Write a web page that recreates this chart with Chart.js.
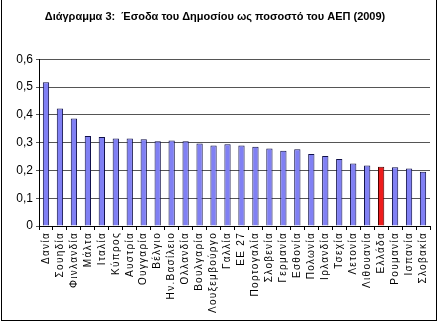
<!DOCTYPE html>
<html>
<head>
<meta charset="utf-8">
<script src="https://cdn.jsdelivr.net/npm/chart.js@4/dist/chart.umd.min.js"></script>
<style>
  body { margin: 0; background: #fff; }
  #wrap { position: relative; width: 438px; height: 325px; }
  #frame { position: absolute; left: 1px; top: -2px; width: 434px; height: 321px; border: 1px solid #000; pointer-events: none; }
</style>
</head>
<body>
<div id="wrap">
  <canvas id="myChart" width="438" height="325"></canvas>
  <div id="frame"></div>
</div>
<script>
// countries, sorted by revenue share
const countries = [
    'Δανία', 'Σουηδία', 'Φινλανδία', 'Μάλτα', 'Ιταλία', 'Κύπρος', 'Αυστρία',
    'Ουγγαρία', 'Βέλγιο', 'Ην.Βασίλειο', 'Ολλανδία', 'Βουλγαρία', 'Λουξεμβούργο',
    'Γαλλία', 'ΕΕ 27', 'Πορτογαλία', 'Σλοβενία', 'Γερμανία', 'Εσθονία', 'Πολωνία',
    'Ιρλανδία', 'Τσεχία', 'Λετονία', 'Λιθουανία', 'Ελλάδα', 'Ρουμανία', 'Ισπανία', 'Σλοβακία'
];

const revenueShare = [
    0.517, 0.423, 0.387, 0.324, 0.320, 0.315, 0.315,
    0.312, 0.305, 0.308, 0.305, 0.297, 0.290,
    0.294, 0.290, 0.285, 0.279, 0.271, 0.276, 0.259,
    0.252, 0.241, 0.225, 0.218, 0.213, 0.211, 0.207, 0.195
];

const yTicks = [0, 0.1, 0.2, 0.3, 0.4, 0.5, 0.6];

const highlight = 'Ελλάδα';

const barColors = countries.map(c => c === highlight ? '#ee1c1c' : '#8080f4');
const borderColors = countries.map(c => c === highlight ? '#4a0000' : '#10104a');

// spaced-out letters on the country labels
const spacedLabels = {
    id: 'spacedLabels',
    afterLayout(chart) {
        const xs = chart.scales.x;
        if (xs._spaced) return;
        const orig = xs.drawLabels;
        xs.drawLabels = function(area) {
            const ctx = this.ctx;
            ctx.save();
            ctx.letterSpacing = '1.3px';
            orig.call(this, area);
            ctx.restore();
        };
        xs._spaced = true;
    }
};

const myChart = new Chart(document.getElementById('myChart'), {
    type: 'bar',
    data: {
        labels: countries,
        datasets: [{
            data: revenueShare,
            backgroundColor: barColors,
            borderColor: borderColors,
            borderWidth: 1,
            barPercentage: 0.45,
            categoryPercentage: 1.0
        }]
    },
    options: {
        responsive: false,
        animation: false,
        layout: { padding: { left: 0, right: 8, top: 0, bottom: 0 } },
        plugins: {
            legend: { display: false },
            tooltip: { enabled: false },
            title: {
                display: true,
                text: 'Διάγραμμα 3:  Έσοδα του Δημοσίου ως ποσοστό του ΑΕΠ (2009)',
                color: '#000',
                font: { family: 'Arial, "Liberation Sans"', size: 11, weight: 'bold' },
                padding: { top: 10, bottom: 36 }
            }
        },
        scales: {
            x: {
                offset: true,
                grid: { display: true, drawOnChartArea: false, offset: true, tickLength: 4, color: '#000' },
                border: { color: '#000', width: 1 },
                ticks: {
                    autoSkip: false,
                    maxRotation: 90,
                    minRotation: 90,
                    color: '#000',
                    padding: 2,
                    font: { family: 'Arial, "Liberation Sans"', size: 10 }
                },
                afterFit(scale) { scale.height = 99; }
            },
            y: {
                min: 0,
                max: 0.6,
                afterBuildTicks(scale) { scale.ticks = yTicks.map(v => ({ value: v })); },
                grid: { color: '#555', tickLength: 3 },
                border: { color: '#000', width: 1 },
                ticks: {
                    color: '#000',
                    padding: 3,
                    font: { family: 'Arial, "Liberation Sans"', size: 12 },
                    callback: v => v === 0 ? '0' : v.toFixed(1).replace('.', ',')
                },
                afterFit(scale) { scale.width = 39; }
            }
        }
    },
    plugins: [spacedLabels]
});
</script>
</body>
</html>
